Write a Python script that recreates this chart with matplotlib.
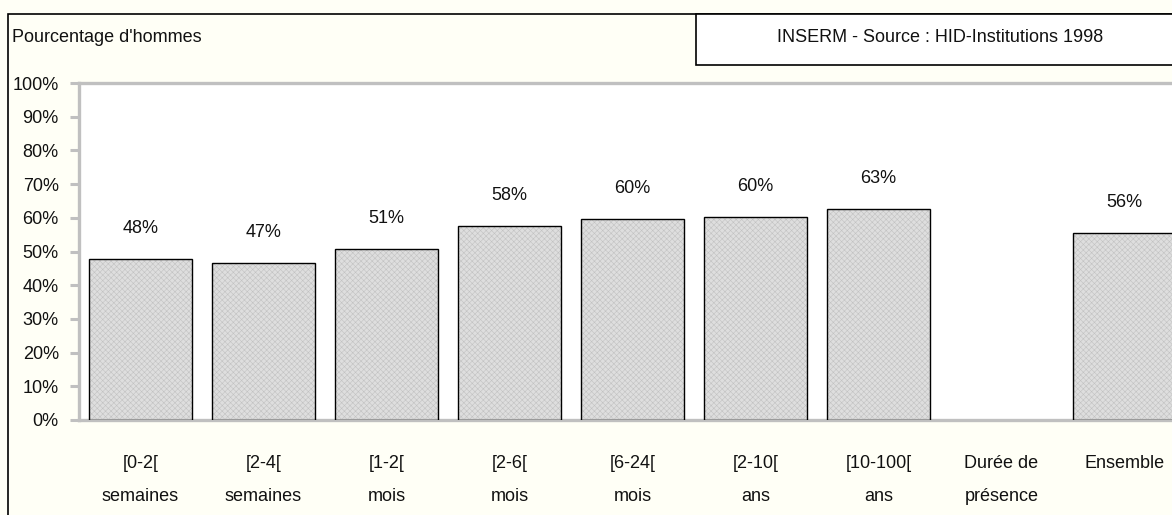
import matplotlib.pyplot as plt
from matplotlib.patches import Rectangle

# data
categories = ["[0-2[\nsemaines", "[2-4[\nsemaines", "[1-2[\nmois", "[2-6[\nmois",
              "[6-24[\nmois", "[2-10[\nans", "[10-100[\nans", "Durée de\nprésence", "Ensemble"]
values = [47.8, 46.7, 50.8, 57.6, 59.7, 60.2, 62.6, None, 55.6]
labels = ["48%", "47%", "51%", "58%", "60%", "60%", "63%", "", "56%"]
yticks = [0, 10, 20, 30, 40, 50, 60, 70, 80, 90, 100]

plt.rcParams['font.family'] = ['Liberation Sans Narrow', 'Liberation Sans', 'DejaVu Sans']
plt.rcParams['hatch.linewidth'] = 0.4

cream = '#fffff6'
grey = '#c0c0c0'
fs = 13

fig = plt.figure(figsize=(11.72, 5.15), dpi=100, facecolor=cream)

# outer frame (clipped at right and bottom like the original)
fig.patches.append(Rectangle((8 / 1172, -0.2), 2, 0.2 + 1 - 14 / 515, transform=fig.transFigure,
                             fill=False, edgecolor='black', linewidth=1.2))
# source box
fig.patches.append(Rectangle((696 / 1172, 1 - 65 / 515), 1, (65 - 14) / 515, transform=fig.transFigure,
                             facecolor='white', edgecolor='black', linewidth=1.2))
fig.text(940 / 1172, 1 - 38 / 515, "INSERM - Source : HID-Institutions 1998",
         ha='center', va='center', fontsize=fs, color='#111111')
fig.text(12 / 1172, 1 - 38 / 515, "Pourcentage d'hommes", ha='left', va='center',
         fontsize=fs, color='#111111')

ax = fig.add_axes([79 / 1172, 1 - 420 / 515, 1107 / 1172, 337 / 515])
ax.set_facecolor('white')

xs = list(range(len(categories)))
for x, v, lab in zip(xs, values, labels):
    if v is None:
        continue
    # textured fill (hatch takes the edge colour, so the outline is drawn separately)
    ax.bar(x, v, width=0.84, facecolor='#dedede', edgecolor='#c2c2c2', linewidth=0,
           hatch='xxxxxx', zorder=2)
    ax.bar(x, v, width=0.84, fill=False, edgecolor='black', linewidth=1.0, zorder=3)
    ax.annotate(lab, (x, v), xytext=(0, 22), textcoords='offset points',
                ha='center', va='center', fontsize=fs, color='#111111')

ax.set_xlim(-0.5, 8.5)
ax.set_ylim(0, 100)
ax.set_yticks(yticks)
ax.set_yticklabels([f"{t}%" for t in yticks], fontsize=fs, color='#111111')
ax.set_xticks(xs)
ax.set_xticklabels(categories, fontsize=fs, color='#111111', linespacing=2.25)
ax.tick_params(axis='x', length=0, pad=25)
ax.tick_params(axis='y', direction='out', length=6.5, width=2.2, color=grey, pad=8)

for s in ['left', 'bottom', 'top', 'right']:
    ax.spines[s].set_color(grey)
    ax.spines[s].set_linewidth(2.4)

fig.savefig('out.png', dpi=100, facecolor=cream)
